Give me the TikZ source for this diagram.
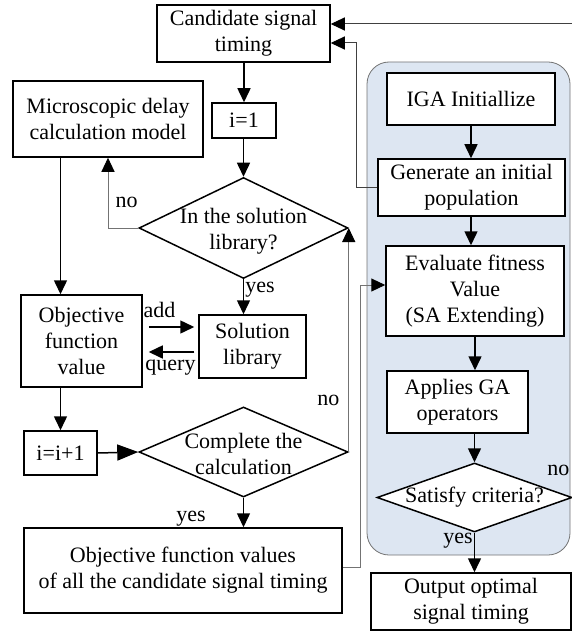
\documentclass[tikz,border=0pt]{standalone}
\usepackage{fontspec}
\setmainfont{Liberation Serif}
\usetikzlibrary{shapes.geometric, arrows.meta, positioning}
\definecolor{PanelBlue}{RGB}{221, 230, 242}
\definecolor{LineGray}{RGB}{115, 115, 115}

\begin{document}
\begin{tikzpicture}[x=1bp, y=-1bp,
                box/.style={draw, line width=1.5bp, fill=white, inner sep=0pt, align=center, font=\fontsize{22bp}{26bp}\selectfont},
                test/.style={draw, diamond, line width=1.5bp, fill=white, inner sep=0pt},
                txt/.style={inner sep=1bp, align=center, font=\fontsize{22bp}{26bp}\selectfont},
                wire/.style={-{Triangle[length=14bp, width=13bp]}, line width=1.5bp},
                bigwire/.style={-{Triangle[length=21bp, width=16bp]}, line width=1.5bp},
                back/.style={-{Triangle[length=14bp, width=13bp, color=black]}, line width=1bp, LineGray}
            ]
                \useasboundingbox (0, 0) rectangle (572, 631);

                % IGA Panel
                \draw[LineGray, fill=PanelBlue, line width=0.8bp, rounded corners=22bp] (367, 62) rectangle (570, 555);

                % Left side
                \node[box, minimum width=173bp, minimum height=57bp] (cand) at (243.5, 33.5) {Candidate signal\\timing};
                \node[box, minimum width=190bp, minimum height=76bp] (micro) at (108, 119) {Microscopic delay\\calculation model};
                \node[box, minimum width=64bp, minimum height=35bp] (ione) at (244, 120.5) {i=1};
                \node[test, minimum width=209bp, minimum height=101bp] (lib_test) at (243.5, 228) {};
                \node[txt] (lib_text) at (243.5, 231) {In the solution\\library?};
                \node[box, minimum width=107bp, minimum height=63bp] (sol) at (252.5, 346.5) {Solution\\library};
                \node[box, minimum width=121bp, minimum height=92bp] (obj) at (81.5, 341) {Objective\\function\\value};
                \node[box, minimum width=73bp, minimum height=44bp] (iinc) at (60.5, 453) {i=i+1};
                \node[test, minimum width=209bp, minimum height=90bp] (done_test) at (243.5, 452) {};
                \node[txt] (done_text) at (243.5, 454) {Complete the\\calculation};
                \node[box, minimum width=318bp, minimum height=85bp] (allval) at (183, 570.5) {Objective function values\\of all the candidate signal timing};

                % Right side
                \node[box, minimum width=168bp, minimum height=52bp] (iga) at (471, 99) {IGA Initiallize};
                \node[box, minimum width=187bp, minimum height=57bp] (gen) at (471.5, 187.5) {Generate an initial\\population};
                \node[box, minimum width=178bp, minimum height=90bp] (eval) at (475, 291) {Evaluate fitness\\Value\\(SA Extending)};
                \node[box, minimum width=141bp, minimum height=62bp] (apply) at (457.5, 402) {Applies GA\\operators};
                \node[test, minimum width=195bp, minimum height=69bp] (crit_test) at (474.5, 497.5) {};
                \node[txt] (crit_text) at (474.5, 497.5) {Satisfy criteria?};
                \node[box, minimum width=200bp, minimum height=57bp] (out) at (471, 601.5) {Output optimal\\signal timing};

                % Left flow
                \draw[wire] (cand.south -| ione.north) -- (ione.north);
                \draw[wire] (ione.south -| lib_test.north) -- (lib_test.north);
                \draw[back] (lib_test.west) -| node[pos=0.68, right=6bp, black, txt] {no} (micro.south);
                \draw[wire] (micro.south -| iinc) -- (obj.north -| iinc);
                \draw[wire] (lib_test.south) -- node[pos=0.3, right, txt] {yes} (sol.north -| lib_test.south);
                \draw[wire, shorten <=6bp, shorten >=4bp] ([yshift=14bp]obj.east) -- node[pos=0.3, above=8bp, txt] {add} ([yshift=14bp]obj.east -| sol.west);
                \draw[wire, shorten <=4bp, shorten >=6bp] ([yshift=-11bp]obj.east -| sol.west) -- node[pos=0.5, below=6bp, txt] {query} ([yshift=-11bp]obj.east);
                \draw[wire] (obj.south -| iinc) -- (iinc.north);
                \draw[bigwire] (iinc.east) -- (done_test.west);
                \draw[back] (done_test.east) -- node[pos=0.23, left=8bp, black, txt] {no} (lib_test.east);
                \draw[wire] (done_test.south) -- node[pos=0.7, left=36bp, txt] {yes} (allval.north -| done_test.south);
                \draw[back] ([yshift=3bp]allval.east) -- ++(18, 0) |- ([yshift=6bp]eval.west);

                % Right flow
                \draw[wire] (iga.south) -- (gen.north -| iga.south);
                \draw[wire] (gen.south -| iga.south) -- (eval.north -| iga.south);
                \draw[wire] (eval.south) -- (apply.north -| eval.south);
                \draw[wire] (apply.south -| crit_test.north) -- (crit_test.north);
                \draw[wire] (crit_test.south) -- node[pos=0.2, left, txt] {yes} (out.north -| crit_test.south);
                \draw[back, black!75] (gen.west) -- ++(-21, 0) |- ([yshift=-9.5bp]cand.east);
                \draw[back, black!75] (crit_test.east) -- node[pos=0, above left=20bp and 2bp, black, txt] {no} ++(10, 0) |- ([yshift=9.5bp]cand.east);
            \end{tikzpicture}
\end{document}
